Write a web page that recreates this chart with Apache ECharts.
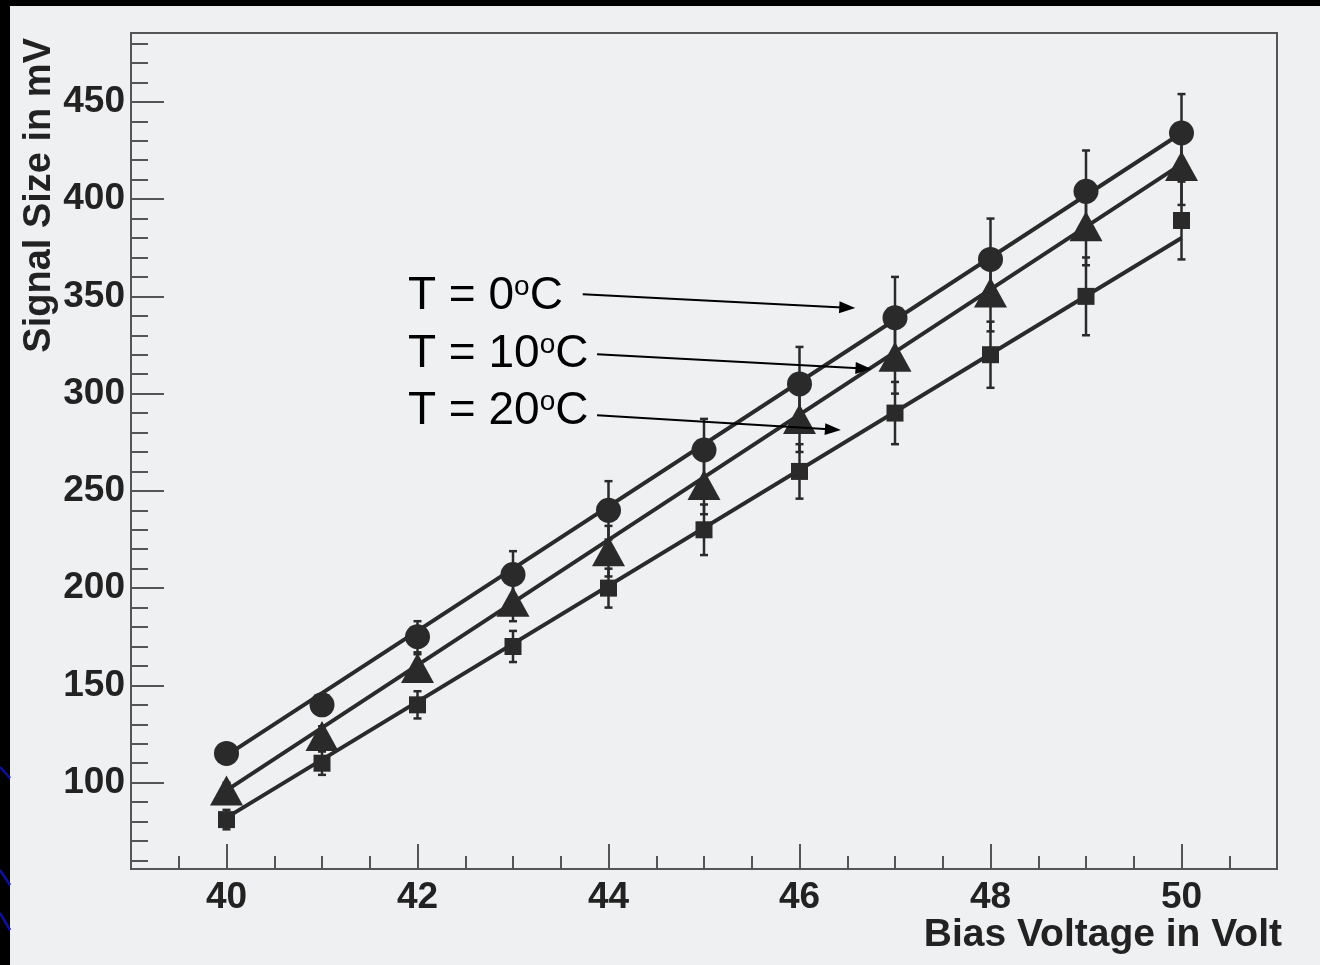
<!DOCTYPE html>
<html>
<head>
<meta charset="utf-8">
<script src="https://cdn.jsdelivr.net/npm/echarts@6/dist/echarts.min.js"></script>
<style>
  html, body { margin: 0; padding: 0; background: #000; width: 1320px; height: 965px; overflow: hidden; }
  #panel { position: absolute; left: 10px; top: 6px; width: 1310px; height: 959px; background: #eff0f2; }
  #chart { position: absolute; left: 0; top: 0; width: 1320px; height: 965px; }
</style>
</head>
<body>
<div id="panel"></div>
<div id="chart"></div>
<script>
// Bias voltage (V) at which the signal was measured
const biasVoltage = [40, 41, 42, 43, 44, 45, 46, 47, 48, 49, 50];

// Mean signal size (mV) and its error for each temperature
const signalT0  = [115, 140, 175, 207, 240, 271, 305, 339, 369, 404, 434];
const errorT0   = [4, 5, 8, 12, 15, 16, 19, 21, 21, 21, 20];
const signalT10 = [96, 124, 159, 193, 219, 253, 287, 319, 352, 386, 417];
const errorT10  = [4, 5, 7, 10, 13, 15, 17, 19, 20, 20, 20];
const signalT20 = [81, 110, 140, 170, 200, 230, 260, 290, 320, 350, 389];
const errorT20  = [5, 6, 7, 8, 10, 13, 14, 16, 17, 20, 20];

// Straight-line fits, evaluated at both ends of the voltage range
const fitVoltage = [40, 50];
const fitT0  = [114, 434];
const fitT10 = [96, 418];
const fitT20 = [82, 380];

// Axis ranges and labelled ticks
const xRange = [39, 51];
const yRange = [55.6, 485.4];
const xMajorTicks = [40, 42, 44, 46, 48, 50];
const yMajorTicks = [100, 150, 200, 250, 300, 350, 400, 450];

// Annotation labels: text, anchor of the text, arrow start and arrow end (data units)
const labelTexts = ['0', '10', '20'];
const labelAnchors = [[41.9, 341.9], [41.9, 312.1], [41.9, 282.8]];
const arrowStarts = [[43.73, 351.1], [43.88, 320.2], [43.88, 288.9]];
const arrowEnds = [[46.50, 344.2], [46.67, 312.9], [46.35, 281.5]];

const xMinorTicks = [];
for (let v = xRange[0] + 0.5; v < xRange[1]; v += 0.5) {
  if (xMajorTicks.indexOf(v) < 0) xMinorTicks.push(v);
}
const yMinorTicks = [];
for (let v = 60; v < yRange[1]; v += 10) {
  if (v % 50 !== 0) yMinorTicks.push(v);
}

const INK = '#2a2a2a';
const AXIS = '#555555';
const FONT = '"Liberation Sans", Arial, Helvetica, sans-serif';

function pairs(xs, ys) { return xs.map((x, i) => [x, ys[i]]); }
function errorRows(sig, err) { return biasVoltage.map((v, i) => [v, sig[i] - err[i], sig[i] + err[i]]); }

function renderErrorBar(params, api) {
  const x = api.value(0);
  const lo = api.coord([x, api.value(1)]);
  const hi = api.coord([x, api.value(2)]);
  const w = 4;
  const st = { stroke: INK, lineWidth: 2.5 };
  return {
    type: 'group',
    children: [
      { type: 'line', shape: { x1: lo[0], y1: lo[1], x2: hi[0], y2: hi[1] }, style: st },
      { type: 'line', shape: { x1: lo[0] - w, y1: lo[1], x2: lo[0] + w, y2: lo[1] }, style: st },
      { type: 'line', shape: { x1: hi[0] - w, y1: hi[1], x2: hi[0] + w, y2: hi[1] }, style: st }
    ]
  };
}

const arrowLines = arrowStarts.map((s, i) => [{ coord: s }, { coord: arrowEnds[i] }]);

const chart = echarts.init(document.getElementById('chart'), null, { renderer: 'canvas' });

const tickLabel = { color: '#222', fontSize: 37, fontWeight: 'bold', fontFamily: FONT };

chart.setOption({
  backgroundColor: 'transparent',
  animation: false,
  grid: {
    left: 131, top: 33, right: 43, bottom: 96,
    show: true, borderColor: AXIS, borderWidth: 2, backgroundColor: 'transparent'
  },
  xAxis: [
    {
      type: 'value', min: xRange[0], max: xRange[1], position: 'bottom',
      axisLine: { show: true, lineStyle: { color: AXIS, width: 2 } },
      axisTick: { show: true, inside: true, length: 25, customValues: xMajorTicks, lineStyle: { color: AXIS, width: 2 } },
      axisLabel: Object.assign({ margin: 10, customValues: xMajorTicks }, tickLabel),
      splitLine: { show: false }
    },
    {
      type: 'value', min: xRange[0], max: xRange[1], position: 'bottom',
      axisLine: { show: false },
      axisTick: { show: true, inside: true, length: 13, customValues: xMinorTicks, lineStyle: { color: AXIS, width: 2 } },
      axisLabel: { show: false },
      splitLine: { show: false }
    }
  ],
  yAxis: [
    {
      type: 'value', min: yRange[0], max: yRange[1], position: 'left',
      axisLine: { show: true, lineStyle: { color: AXIS, width: 2 } },
      axisTick: { show: true, inside: true, length: 33, customValues: yMajorTicks, lineStyle: { color: AXIS, width: 2 } },
      axisLabel: Object.assign({ margin: 6, customValues: yMajorTicks }, tickLabel),
      splitLine: { show: false }
    },
    {
      type: 'value', min: yRange[0], max: yRange[1], position: 'left',
      axisLine: { show: false },
      axisTick: { show: true, inside: true, length: 17, customValues: yMinorTicks, lineStyle: { color: AXIS, width: 2 } },
      axisLabel: { show: false },
      splitLine: { show: false }
    }
  ],
  series: [
    { name: 'fit T0', type: 'line', data: pairs(fitVoltage, fitT0), symbol: 'none', lineStyle: { color: INK, width: 4 }, z: 2,
      markLine: {
        silent: true, symbol: ['none', 'triangle'], symbolSize: [12, 16],
        label: { show: false },
        lineStyle: { color: '#000', width: 2, type: 'solid' },
        data: arrowLines
      }
    },
    { name: 'fit T10', type: 'line', data: pairs(fitVoltage, fitT10), symbol: 'none', lineStyle: { color: INK, width: 4 }, z: 2 },
    { name: 'fit T20', type: 'line', data: pairs(fitVoltage, fitT20), symbol: 'none', lineStyle: { color: INK, width: 4 }, z: 2 },
    { name: 'err T0', type: 'custom', renderItem: renderErrorBar, data: errorRows(signalT0, errorT0), encode: { x: 0, y: [1, 2] }, z: 3 },
    { name: 'err T10', type: 'custom', renderItem: renderErrorBar, data: errorRows(signalT10, errorT10), encode: { x: 0, y: [1, 2] }, z: 3 },
    { name: 'err T20', type: 'custom', renderItem: renderErrorBar, data: errorRows(signalT20, errorT20), encode: { x: 0, y: [1, 2] }, z: 3 },
    { name: 'T = 0', type: 'scatter', data: pairs(biasVoltage, signalT0), symbol: 'circle', symbolSize: 25, itemStyle: { color: INK, opacity: 1 }, z: 4 },
    { name: 'T = 10', type: 'scatter', data: pairs(biasVoltage, signalT10), symbol: 'triangle', symbolSize: [33, 30], itemStyle: { color: INK, opacity: 1 }, z: 4 },
    { name: 'T = 20', type: 'scatter', data: pairs(biasVoltage, signalT20), symbol: 'rect', symbolSize: 17, itemStyle: { color: INK, opacity: 1 }, z: 4 }
  ]
});

// Titles, annotation labels and the blue strokes at the left edge
const graphics = [
  { type: 'line', shape: { x1: 0, y1: 767, x2: 10, y2: 778 }, style: { stroke: '#1010a0', lineWidth: 2.5 } },
  { type: 'line', shape: { x1: 0, y1: 870, x2: 10, y2: 885 }, style: { stroke: '#1010a0', lineWidth: 2.5 } },
  { type: 'line', shape: { x1: 0, y1: 913, x2: 10, y2: 930 }, style: { stroke: '#1010a0', lineWidth: 2.5 } },
  {
    type: 'text', x: 1282, y: 935,
    style: { text: 'Bias Voltage in Volt', fill: '#222', font: 'bold 39px ' + FONT, textAlign: 'right', textVerticalAlign: 'middle' }
  },
  {
    type: 'text', x: 40, y: 38, rotation: Math.PI / 2,
    style: { text: 'Signal Size in mV', fill: '#222', font: 'bold 38px ' + FONT, textAlign: 'right', textVerticalAlign: 'middle' }
  }
];
labelTexts.forEach((t, i) => {
  const p = chart.convertToPixel({ gridIndex: 0 }, labelAnchors[i]);
  graphics.push({
    type: 'text', x: p[0], y: p[1] - 39,
    style: {
      text: '{a|T = ' + t + '}{s|o}{a|C}',
      textAlign: 'left', textVerticalAlign: 'top',
      rich: {
        a: { fontSize: 46, lineHeight: 46, fontFamily: FONT, color: '#000' },
        s: { fontSize: 28, lineHeight: 34, fontFamily: FONT, color: '#000', verticalAlign: 'top' }
      }
    }
  });
});
chart.setOption({ graphic: graphics });
</script>
</body>
</html>
